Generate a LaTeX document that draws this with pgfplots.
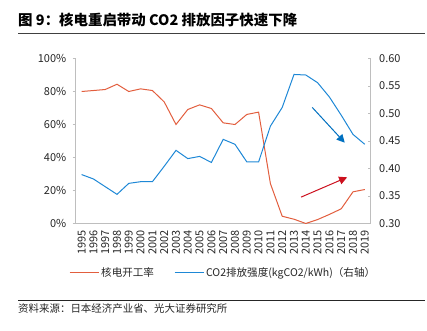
\documentclass[border=0pt]{standalone}
\usepackage{pgfplots}
\pgfplotsset{compat=1.18}
\usepackage{fontspec}
\setmainfont{Noto Sans CJK SC}
\usetikzlibrary{arrows.meta}
\definecolor{nred}{RGB}{226,94,62}
\definecolor{nblue}{RGB}{30,136,214}
\definecolor{ared}{RGB}{204,16,30}
\definecolor{ablue}{RGB}{0,112,192}
\definecolor{axgray}{RGB}{190,190,190}
\begin{document}
\begin{tikzpicture}
\useasboundingbox (0bp,0bp) rectangle (427bp,-331bp);
\node[anchor=west, inner sep=0, font=\fontsize{14.5}{16}\selectfont\bfseries] at (18bp,-20bp) {图 9：核电重启带动 CO2 排放因子快速下降};
\draw[line width=0.9bp, black!75] (18bp,-33.5bp) -- (425bp,-33.5bp);
\draw[line width=0.9bp, black!85] (18bp,-300bp) -- (425bp,-300bp);
\node[anchor=west, inner sep=0, font=\fontsize{10.5}{12}\selectfont, black!85] at (18bp,-308.5bp) {资料来源：日本经济产业省、光大证券研究所};

\pgfplotsset{common/.style={
  at={(75.7bp,-223.5bp)}, anchor=south west, scale only axis, width=295bp, height=165bp,
  xmin=1994.5, xmax=2019.5,
  /pgf/number format/assume math mode=true,
  tick label style={font=\fontsize{11}{12}\selectfont, black!85},
  axis line style={axgray, line width=0.8bp},
  tick style={axgray, line width=0.6bp},
  major tick length=3bp,
}}

\begin{axis}[common,
  ymin=0, ymax=100, ytick={0,20,40,60,80,100},
  yticklabel={\pgfmathprintnumber[assume math mode=true]{\tick}\%},
  axis y line*=left, axis x line*=bottom,
  xtick={1995,...,2019},
  xticklabel style={rotate=90, anchor=east, /pgf/number format/1000 sep={}},
  xtick style={draw=none},
  ytick pos=left, tick align=outside,
  yticklabel style={xshift=-3bp},
]
\addplot[nred, line width=1bp] coordinates {
(1995,80.0) (1996,80.6) (1997,81.2) (1998,84.4) (1999,80.0) (2000,81.6) (2001,80.6)
(2002,73.7) (2003,60.0) (2004,69.1) (2005,71.9) (2006,69.7) (2007,61.0) (2008,60.0)
(2009,66.1) (2010,67.5) (2011,24.2) (2012,4.4) (2013,2.6) (2014,0.0) (2015,2.4)
(2016,5.5) (2017,8.9) (2018,19.2) (2019,20.6)};
\end{axis}

\begin{axis}[common,
  ymin=0.3, ymax=0.6, ytick={0.30,0.35,0.40,0.45,0.50,0.55,0.60},
  yticklabel style={xshift=5bp, /pgf/number format/fixed, /pgf/number format/fixed zerofill, /pgf/number format/precision=2},
  axis y line*=right, axis x line=none,
  tick align=inside,
  legend style={at={(0.5,-0.298)}, anchor=center, draw=none, fill=none,
    legend columns=2, font=\fontsize{10.6}{12}\selectfont, text=black!85,
    /tikz/every even column/.append style={column sep=18bp},
    inner sep=0pt},
  legend image code/.code={\draw[#1] (0bp,0bp) -- (29bp,0bp);},
]
\addlegendimage{nred, line width=1bp}
\addlegendentry{核电开工率}
\addplot[nblue, line width=1bp] coordinates {
(1995,0.389) (1996,0.381) (1997,0.367) (1998,0.353) (1999,0.373) (2000,0.376) (2001,0.376)
(2002,0.404) (2003,0.433) (2004,0.418) (2005,0.422) (2006,0.411) (2007,0.453) (2008,0.444)
(2009,0.412) (2010,0.412) (2011,0.477) (2012,0.511) (2013,0.571) (2014,0.570) (2015,0.556)
(2016,0.530) (2017,0.497) (2018,0.462) (2019,0.444)};
\addlegendentry{CO2排放强度(kgCO2/kWh)（右轴）}
\addplot[ablue, line width=1bp, -{Triangle[length=8bp,width=8bp]}, forget plot] coordinates {(2014.55,0.511) (2017.3,0.447)};
\addplot[ared, line width=1bp, -{Triangle[length=8bp,width=8bp]}, forget plot] coordinates {(2013.6,0.348) (2017.5,0.384)};
\end{axis}
\end{tikzpicture}
\end{document}
